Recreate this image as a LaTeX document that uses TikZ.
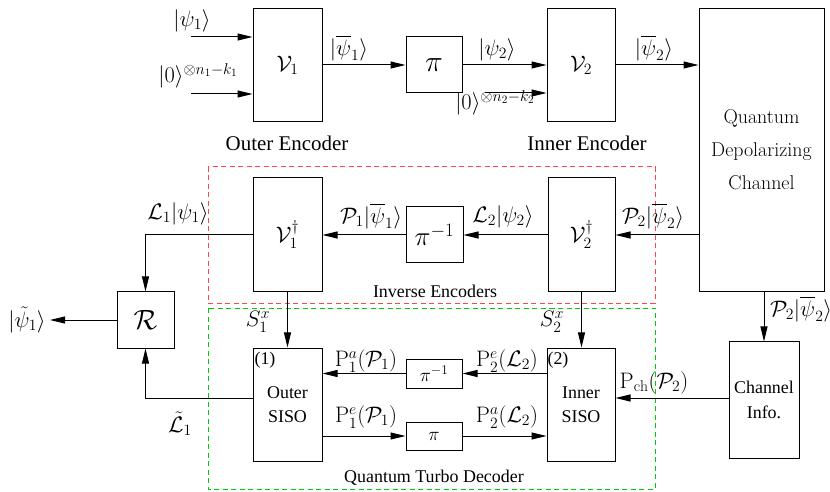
\RequirePackage{fix-cm}
\documentclass[tikz,border=0pt]{standalone}
\usepackage{amsmath,amssymb}
\usepackage{fontspec}
\usetikzlibrary{arrows.meta,calc}
\newfontfamily\tim{Liberation Serif}
\definecolor{dred}{RGB}{255,70,70}
\definecolor{dgreen}{RGB}{0,205,0}
\begin{document}
\begin{tikzpicture}[x=1bp,y=-1bp,
  every node/.style={font=\fontsize{22.5}{26}\selectfont, inner sep=0pt},
  box/.style={draw, line width=1bp, minimum width=#1},
  arr/.style={line width=1bp, -{Triangle[length=15bp,width=7bp]}},
  lbl/.style={font=\fontsize{22.5}{26}\selectfont},
  tlbl/.style={font=\tim\fontsize{18}{22}\selectfont},
  tbig/.style={font=\tim\fontsize{21}{25}\selectfont},
  dsh/.style={line width=1bp, dash pattern=on 5bp off 3.5bp}]
\useasboundingbox (0,0) rectangle (830,492);

% dashed regions
\draw[dsh, dred] (208,167) rectangle (655,303);
\draw[dsh, dgreen] (208,308) rectangle (655,489);

% boxes
\node[box=69bp, minimum height=113bp] (V1) at (287.5,65.5) {$\mathcal{V}_1$};
\node[box=56bp, minimum height=56bp, font=\fontsize{30}{34}\selectfont] (piA) at (434,65) {$\pi$};
\node[box=68bp, minimum height=113bp] (V2) at (581,65.5) {$\mathcal{V}_2$};
\node[box=125bp, minimum height=282bp, align=center, font=\fontsize{20}{33}\selectfont] (Ch) at (761.5,150) {Quantum\\Depolarizing\\Channel};
\node[box=69bp, minimum height=113bp] (V1d) at (287.5,234.5) {$\mathcal{V}_1^{\dagger}$};
\node[box=57bp, minimum height=56bp, font=\fontsize{27}{30}\selectfont] (piinvA) at (434.5,235) {$\pi^{-1}$};
\node[box=67bp, minimum height=113bp] (V2d) at (581.5,234.5) {$\mathcal{V}_2^{\dagger}$};
\node[box=57bp, minimum height=56bp, font=\fontsize{28}{32}\selectfont] (R) at (145.5,320) {$\mathcal{R}$};
\node[box=69bp, minimum height=113bp, align=center, font=\tim\fontsize{18}{24}\selectfont] (OS) at (287.5,404.5) {Outer\\SISO};
\node[box=68bp, minimum height=113bp, align=center, font=\tim\fontsize{18}{24}\selectfont] (IS) at (581,404.5) {Inner\\SISO};
\node[box=56bp, minimum height=29bp, font=\fontsize{19}{22}\selectfont] (piinvB) at (434,373.5) {$\pi^{-1}$};
\node[box=56bp, minimum height=28bp, font=\fontsize{19}{22}\selectfont] (piB) at (434,436) {$\pi$};
\node[box=70bp, minimum height=116bp, align=center, font=\tim\fontsize{18}{25}\selectfont] (CI) at (764,400) {Channel\\Info.};

% encoder inputs
\coordinate (in1) at (191,37);
\coordinate (in2) at (191,94);
\coordinate (in3) at (485,93);
\draw[arr] (in1) -- (in1 -| V1.west);
\draw[arr] (in2) -- (in2 -| V1.west);
\draw[arr] (in3) -- (in3 -| V2.west);
\draw[arr] (V1.east |- piA) -- (piA.west);
\draw[arr] (piA.east) -- (piA.east -| V2.west);
\draw[arr] (V2.east |- piA) -- (piA -| Ch.west);

% inverse row
\draw[arr] (Ch.west |- piinvA) -- (piinvA -| V2d.east);
\draw[arr] (V2d.west |- piinvA) -- (piinvA.east);
\draw[arr] (piinvA.west) -- (piinvA -| V1d.east);
\coordinate (c1) at (R.north |- piinvA);
\draw[arr] (piinvA -| V1d.west) -- (c1) -- (R.north);

% decoder
\draw[arr] (V1d.south) -- (OS.north);
\draw[arr] (V2d.south) -- (V2d.south |- IS.north);
\draw[arr] (IS.west |- piinvB) -- (piinvB.east);
\draw[arr] (piinvB.west) -- (piinvB -| OS.east);
\draw[arr] (OS.east |- piB) -- (piB.west);
\draw[arr] (piB.east) -- (piB -| IS.west);
\coordinate (c2) at (R.south |- 0,398);
\draw[arr] (OS.west |- c2) -- (c2) -- (R.south);
\coordinate (out) at (50,320);
\draw[arr] (R.west) -- (out);
\draw[arr] (CI.west |- c2) -- (c2 -| IS.east);
\draw[arr] (CI.north |- Ch.south) -- (CI.north);

% labels
\node[lbl] at (192,21) {$|\psi_1\rangle$};
\node[lbl, anchor=east] at (238,76) {$|0\rangle^{\otimes n_1-k_1}$};
\node[lbl] at (349,48) {$|\overline{\psi}_1\rangle$};
\node[lbl] at (497,50) {$|\psi_2\rangle$};
\node[lbl] at (495,103) {$|0\rangle^{\otimes n_2-k_2}$};
\node[lbl] at (654,48) {$|\overline{\psi}_2\rangle$};
\node[tbig] at (287,143) {Outer Encoder};
\node[tbig] at (587,143) {Inner Encoder};

\node[lbl] at (178,214) {$\mathcal{L}_1|\psi_1\rangle$};
\node[lbl] at (371,216) {$\mathcal{P}_1|\overline{\psi}_1\rangle$};
\node[lbl] at (503,217) {$\mathcal{L}_2|\psi_2\rangle$};
\node[lbl] at (653,216) {$\mathcal{P}_2|\overline{\psi}_2\rangle$};
\node[tlbl] at (435,291) {Inverse Encoders};

\node[lbl] at (258,322) {$S_1^x$};
\node[lbl] at (552,322) {$S_2^x$};
\node[lbl] at (366,361) {$\mathrm{P}_1^a(\mathcal{P}_1)$};
\node[lbl] at (366,417) {$\mathrm{P}_1^e(\mathcal{P}_1)$};
\node[lbl] at (507,361) {$\mathrm{P}_2^e(\mathcal{L}_2)$};
\node[lbl] at (507,417) {$\mathrm{P}_2^a(\mathcal{L}_2)$};
\node[tlbl] at (265,360) {(1)};
\node[tlbl] at (558,360) {(2)};
\node[lbl] at (654,383) {$\mathrm{P}_{\mathrm{ch}}(\mathcal{P}_2)$};
\node[lbl, anchor=west] at (770,309) {$\mathcal{P}_2|\overline{\psi}_2\rangle$};
\node[lbl] at (180,424) {$\tilde{\mathcal{L}}_1$};
\node[lbl] at (27,320) {$|\tilde{\psi}_1\rangle$};
\node[tlbl] at (434,478) {Quantum Turbo Decoder};
\end{tikzpicture}
\end{document}
